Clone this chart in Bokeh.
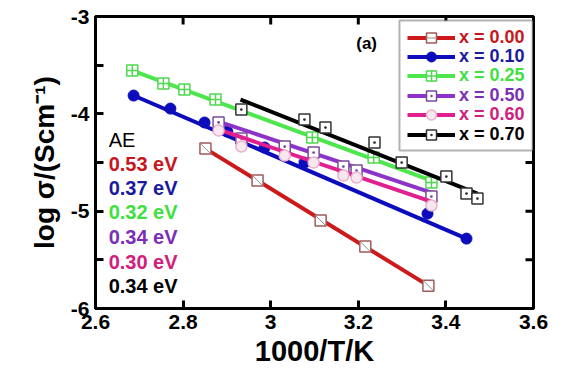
import numpy as np
from bokeh.plotting import figure
from bokeh.models import (FixedTicker, Legend, LegendItem, BoxAnnotation,
                          ColumnDataSource, Label)
from bokeh.core.properties import value
from bokeh.embed import file_html
from bokeh.resources import INLINE

# ---------------- data ----------------
series_labels = ["x = 0.00", "x = 0.10", "x = 0.25", "x = 0.50", "x = 0.60", "x = 0.70"]

x00 = [2.851, 2.970, 3.114, 3.216, 3.360]
y00 = [-4.357, -4.686, -5.097, -5.364, -5.765]

x10 = [2.687, 2.771, 2.849, 2.901, 2.986, 3.077, 3.358, 3.447]
y10 = [-3.812, -3.946, -4.089, -4.182, -4.346, -4.501, -5.025, -5.282]

x25 = [2.684, 2.755, 2.803, 2.874, 3.095, 3.235, 3.367]
y25 = [-3.555, -3.689, -3.750, -3.853, -4.244, -4.449, -4.706]

x50 = [2.881, 2.933, 3.032, 3.098, 3.166, 3.196, 3.367]
y50 = [-4.089, -4.254, -4.336, -4.398, -4.542, -4.583, -4.850]

x60 = [2.881, 2.933, 3.032, 3.098, 3.166, 3.196, 3.367]
y60 = [-4.172, -4.336, -4.429, -4.501, -4.634, -4.655, -4.942]

x70 = [2.933, 3.077, 3.125, 3.237, 3.299, 3.401, 3.447, 3.472]
y70 = [-3.956, -4.059, -4.141, -4.295, -4.501, -4.644, -4.819, -4.871]

# linear fit lines (end points)
fit_x00 = [2.851, 3.360]; fit_y00 = [-4.357, -5.765]
fit_x10 = [2.687, 3.447]; fit_y10 = [-3.812, -5.282]
fit_x25 = [2.684, 3.367]; fit_y25 = [-3.555, -4.686]
fit_x50 = [2.881, 3.367]; fit_y50 = [-4.079, -4.809]
fit_x60 = [2.881, 3.367]; fit_y60 = [-4.161, -4.901]
fit_x70 = [2.931, 3.472]; fit_y70 = [-3.853, -4.819]

ae_title = "AE"
ae_values = ["0.53 eV", "0.37 eV", "0.32 eV", "0.34 eV", "0.30 eV", "0.34 eV"]
ae_y = [-4.516, -4.757, -5.004, -5.261, -5.518, -5.765]
ae_title_y = -4.264
ae_x = 2.630

x_ticks = [2.6, 2.8, 3.0, 3.2, 3.4, 3.6]
x_tick_labels = ["2.6", "2.8", "3", "3.2", "3.4", "3.6"]
y_ticks = [-6, -5, -4, -3]
y_tick_labels = ["-6", "-5", "-4", "-3"]
y_minor = [-5.5, -4.5, -3.5]

# ---------------- styling ----------------
FONT = "Liberation Sans"
line_cols = ["#cc1a1a", "#0c0cbc", "#4de64d", "#8e33c8", "#e0208f", "#000000"]
text_cols = ["#c8161d", "#1a1aa0", "#3fe03f", "#7b2fb5", "#d0207c", "#000000"]

p = figure(width=569, height=379, x_range=(x_ticks[0], x_ticks[-1]),
           y_range=(y_ticks[0], y_ticks[-1]),
           output_backend="svg", toolbar_location=None,
           min_border_left=95, min_border_right=36, min_border_top=16, min_border_bottom=71)
p.xgrid.visible = False
p.ygrid.visible = False
p.outline_line_color = "black"
p.outline_line_width = 3
p.background_fill_color = "white"
p.border_fill_color = "white"

xt = FixedTicker(ticks=x_ticks, minor_ticks=[])
yt = FixedTicker(ticks=y_ticks, minor_ticks=y_minor)

for ax in (p.xaxis[0], p.yaxis[0]):
    ax.axis_line_color = "black"
    ax.axis_line_width = 3
    ax.major_tick_in = 8
    ax.major_tick_out = 0
    ax.major_tick_line_width = 3
    ax.minor_tick_in = 8
    ax.minor_tick_out = 0
    ax.minor_tick_line_width = 3
    ax.major_label_text_font = FONT
    ax.major_label_text_font_style = "bold"
    ax.major_label_text_color = "black"
    ax.major_label_text_font_size = "21px"
    ax.axis_label_text_font = FONT
    ax.axis_label_text_font_style = "bold"
    ax.axis_label_text_color = "black"

p.xaxis.ticker = xt
p.yaxis.ticker = yt
p.xaxis.major_label_overrides = dict(zip(x_ticks, x_tick_labels))
p.yaxis.major_label_overrides = dict(zip(y_ticks, y_tick_labels))
p.xaxis.major_label_standoff = 6
p.yaxis.major_label_standoff = 6
p.xaxis.axis_label = "1000/T/K"
p.yaxis.axis_label = "log σ/(Scm⁻¹)"
p.xaxis.axis_label_text_font_size = "29px"
p.yaxis.axis_label_text_font_size = "28px"
p.xaxis.axis_label_standoff = 3
p.yaxis.axis_label_standoff = 8

# mirrored inward ticks on the top and right edges (clipped to the frame)
top_ticks = x_ticks[1:-1]
p.scatter(top_ticks, [y_ticks[-1]] * len(top_ticks), marker="dash", angle=np.pi / 2,
          size=16, line_color="black", line_width=3)
right_ticks = sorted(y_ticks[1:-1] + y_minor)
p.scatter([x_ticks[-1]] * len(right_ticks), right_ticks, marker="dash",
          size=16, line_color="black", line_width=3)

# ---------------- series ----------------
xs = [x00, x10, x25, x50, x60, x70]
ys = [y00, y10, y25, y50, y60, y70]
fxs = [fit_x00, fit_x10, fit_x25, fit_x50, fit_x60, fit_x70]
fys = [fit_y00, fit_y10, fit_y25, fit_y50, fit_y60, fit_y70]

marker_specs = [
    dict(marker="square", size=11, line_color="#a05a5a", fill_color="white", line_width=1.5),
    dict(marker="circle", size=11, line_color="#0c0cbc", fill_color="#0c0cbc", line_width=1),
    dict(marker="square_cross", size=11, line_color="#4fd84f", fill_color="white", line_width=1.5),
    dict(marker="square_dot", size=11, line_color="#7a4a9a", fill_color="white", line_width=1.5),
    dict(marker="circle", size=11, line_color="#e8b0cc", fill_color="#f7e8f0", line_width=1.5),
    dict(marker="square_dot", size=11, line_color="#333333", fill_color="white", line_width=1.5),
]

renderer_sets = []
for i in range(6):
    src = ColumnDataSource(dict(x=xs[i], y=ys[i]))
    lr = p.line(fxs[i], fys[i], line_color=line_cols[i], line_width=4)
    sr = p.scatter("x", "y", source=src, **marker_specs[i])
    rs = [lr, sr]
    if i == 0:
        dr = p.scatter("x", "y", source=src, marker="dash", size=14, angle=-np.pi / 4,
                       line_color="#909090", line_width=1)
        rs.append(dr)
    renderer_sets.append(rs)

# ---------------- legend ----------------
box = BoxAnnotation(left=3.294, right=3.598, top=-3.041, bottom=-4.377,
                    fill_color="white", fill_alpha=1.0, line_color="black", line_width=2)
p.add_layout(box)

row_centers = [37, 56.4, 75.8, 95.2, 114.6, 134]   # canvas px of legend rows
frame_bottom = 308
for i in range(6):
    item = LegendItem(label=series_labels[i], renderers=renderer_sets[i])
    vy = frame_bottom - (row_centers[i] + 12.5)
    lg = Legend(items=[item], location=(312, vy), orientation="vertical",
                background_fill_alpha=0, border_line_alpha=0, padding=0, margin=0,
                spacing=0, glyph_width=48, glyph_height=25, label_height=25,
                label_standoff=4, label_text_font=FONT, label_text_font_style="bold",
                label_text_font_size="18px", label_text_color=text_cols[i])
    p.add_layout(lg)

# ---------------- annotations ----------------
p.text(x=[ae_x], y=[ae_title_y], text=[ae_title], text_font=value(FONT),
       text_font_size="20px", text_color="black", text_align="left", text_baseline="middle")
src_ae = ColumnDataSource(dict(x=[ae_x] * 6, y=ae_y, t=ae_values, c=text_cols))
p.text(x="x", y="y", text="t", source=src_ae, text_font=value(FONT), text_font_style="bold",
       text_font_size="20px", text_color="c", text_align="left", text_baseline="middle")

p.add_layout(Label(x=3.219, y=-3.277, text="(a)", text_font=FONT, text_font_style="bold",
                   text_font_size="17px", text_color="black", text_align="center",
                   text_baseline="middle"))

open("out.html", "w").write(file_html(p, INLINE))
